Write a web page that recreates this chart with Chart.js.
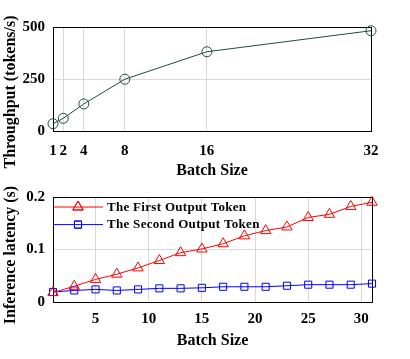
<!DOCTYPE html>
<html>
<head>
<meta charset="utf-8">
<script src="https://cdn.jsdelivr.net/npm/chart.js@4.4.1/dist/chart.umd.min.js"></script>
<style>
  body { margin: 0; background: #fff; }
  #wrap { position: relative; width: 410px; height: 359px; }
  canvas { position: absolute; left: 0; }
</style>
</head>
<body>
<div id="wrap">
  <canvas id="throughput" width="410" height="180" style="top:0"></canvas>
  <canvas id="latency" width="410" height="179" style="top:180px"></canvas>
</div>
<script>
// top plot
var batchSizes = [1, 2, 4, 8, 16, 32];
var throughput = [35, 61, 130, 249, 381, 482];
var batchTicks = [1, 2, 4, 8, 16, 32];

// bottom plot
var latencyBatch = [1, 3, 5, 7, 9, 11, 13, 15, 17, 19, 21, 23, 25, 27, 29, 31];
var firstToken = [0.018, 0.030, 0.043, 0.053, 0.065, 0.079, 0.094, 0.101, 0.111, 0.126, 0.136, 0.143, 0.161, 0.167, 0.182, 0.190];
var secondToken = [0.019, 0.022, 0.024, 0.022, 0.024, 0.026, 0.026, 0.027, 0.029, 0.029, 0.029, 0.031, 0.033, 0.033, 0.033, 0.035];
var latencyTicks = [5, 10, 15, 20, 25, 30];
var legendLabels = ['The First Output Token', 'The Second Output Token'];

var serif = "'Liberation Serif', 'Times New Roman', serif";
var gridColor = '#d9d9d9';

function toPoints(xs, ys) {
  return xs.map(function(x, i) { return {x: x, y: ys[i]}; });
}

// box around plot area + rotated y title + optional legend
var framePlugin = {
  id: 'frame',
  beforeDatasetsDraw: function(chart, args, opts) {
    var a = chart.chartArea, ctx = chart.ctx;
    ctx.save();
    ctx.strokeStyle = '#000';
    ctx.lineWidth = 1;
    ctx.strokeRect(Math.round(a.left) + 0.5, Math.round(a.top) + 0.5,
      Math.round(a.right - a.left), Math.round(a.bottom - a.top));
    ctx.restore();
  },
  afterDraw: function(chart, args, opts) {
    var ctx = chart.ctx;
    ctx.save();
    ctx.fillStyle = '#000';
    ctx.font = 'bold 16px ' + serif;
    ctx.translate(opts.titleX, opts.titleY);
    ctx.rotate(-Math.PI / 2);
    ctx.textAlign = 'center';
    ctx.textBaseline = 'middle';
    ctx.fillText(opts.title, 0, 0);
    ctx.restore();

    if (!opts.legend) return;
    var a = chart.chartArea;
    chart.data.datasets.forEach(function(ds, i) {
      var y = a.top + 10 + i * 17.6;
      ctx.save();
      ctx.strokeStyle = ds.borderColor;
      ctx.lineWidth = 1;
      ctx.beginPath();
      ctx.moveTo(a.left, y);
      ctx.lineTo(a.left + 50, y);
      ctx.stroke();
      Chart.helpers.drawPoint(ctx, {
        pointStyle: ds.pointStyle, radius: ds.pointRadius, borderWidth: 1, rotation: 0
      }, a.left + 25, y);
      ctx.stroke();
      ctx.fillStyle = '#000';
      ctx.font = 'bold 13px ' + serif;
      ctx.letterSpacing = '0.3px';
      ctx.textBaseline = 'middle';
      ctx.fillText(legendLabels[i], a.left + 54, y + 0.5);
      ctx.restore();
    });
  }
};

function axisX(min, max, ticks, height, tickPad, titlePad) {
  return {
    type: 'linear', min: min, max: max,
    afterBuildTicks: function(s) { s.ticks = ticks.map(function(v) { return {value: v}; }); },
    afterFit: function(s) { s.height = height; },
    grid: { color: gridColor, drawTicks: false },
    border: { color: '#000', width: 1 },
    ticks: { color: '#000', padding: tickPad, maxRotation: 0, autoSkip: false,
      font: { family: serif, size: 15, weight: 'bold' } },
    title: { display: true, text: 'Batch Size', color: '#000',
      padding: { top: 0, bottom: titlePad },
      font: { family: serif, size: 16, weight: 'bold' } }
  };
}

function axisY(max, step) {
  return {
    min: 0, max: max,
    afterFit: function(s) { s.width = 53; },
    grid: { color: gridColor, drawTicks: false },
    border: { color: '#000', width: 1 },
    ticks: { color: '#000', padding: 8, stepSize: step,
      font: { family: serif, size: 15, weight: 'bold' } }
  };
}

new Chart('throughput', {
  type: 'line',
  data: {
    datasets: [{
      data: toPoints(batchSizes, throughput),
      borderColor: '#1f4d38',
      borderWidth: 1,
      pointStyle: 'circle',
      pointRadius: 5,
      pointBorderWidth: 1,
      pointBackgroundColor: 'rgba(0,0,0,0)',
      pointBorderColor: '#1f4d38',
      tension: 0,
      clip: false
    }]
  },
  options: {
    responsive: false,
    animation: false,
    layout: { padding: { left: 0, right: 39, top: 27, bottom: 0 } },
    scales: {
      x: axisX(1, 32, batchTicks, 49, 11, 0),
      y: axisY(500, 250)
    },
    plugins: {
      legend: { display: false },
      tooltip: { enabled: false },
      frame: { title: 'Throughput (tokens/s)', titleX: 11, titleY: 92 }
    }
  },
  plugins: [framePlugin]
});

new Chart('latency', {
  type: 'line',
  data: {
    datasets: [{
      label: legendLabels[0],
      data: toPoints(latencyBatch, firstToken),
      borderColor: '#ff0000',
      borderWidth: 1,
      pointStyle: 'triangle',
      pointRadius: 6,
      pointBorderWidth: 1,
      pointBackgroundColor: 'rgba(0,0,0,0)',
      pointBorderColor: '#ff0000',
      tension: 0,
      clip: false
    }, {
      label: legendLabels[1],
      data: toPoints(latencyBatch, secondToken),
      borderColor: '#0000ff',
      borderWidth: 1,
      pointStyle: 'rect',
      pointRadius: 5,
      pointBorderWidth: 1,
      pointBackgroundColor: 'rgba(0,0,0,0)',
      pointBorderColor: '#0000ff',
      tension: 0,
      clip: false
    }]
  },
  options: {
    responsive: false,
    animation: false,
    layout: { padding: { left: 0, right: 38, top: 17, bottom: 0 } },
    scales: {
      x: axisX(1, 31, latencyTicks, 57, 8, 9),
      y: axisY(0.2, 0.1)
    },
    plugins: {
      legend: { display: false },
      tooltip: { enabled: false },
      frame: { title: 'Inference latency (s)', titleX: 11, titleY: 75, legend: true }
    }
  },
  plugins: [framePlugin]
});
</script>
</body>
</html>
